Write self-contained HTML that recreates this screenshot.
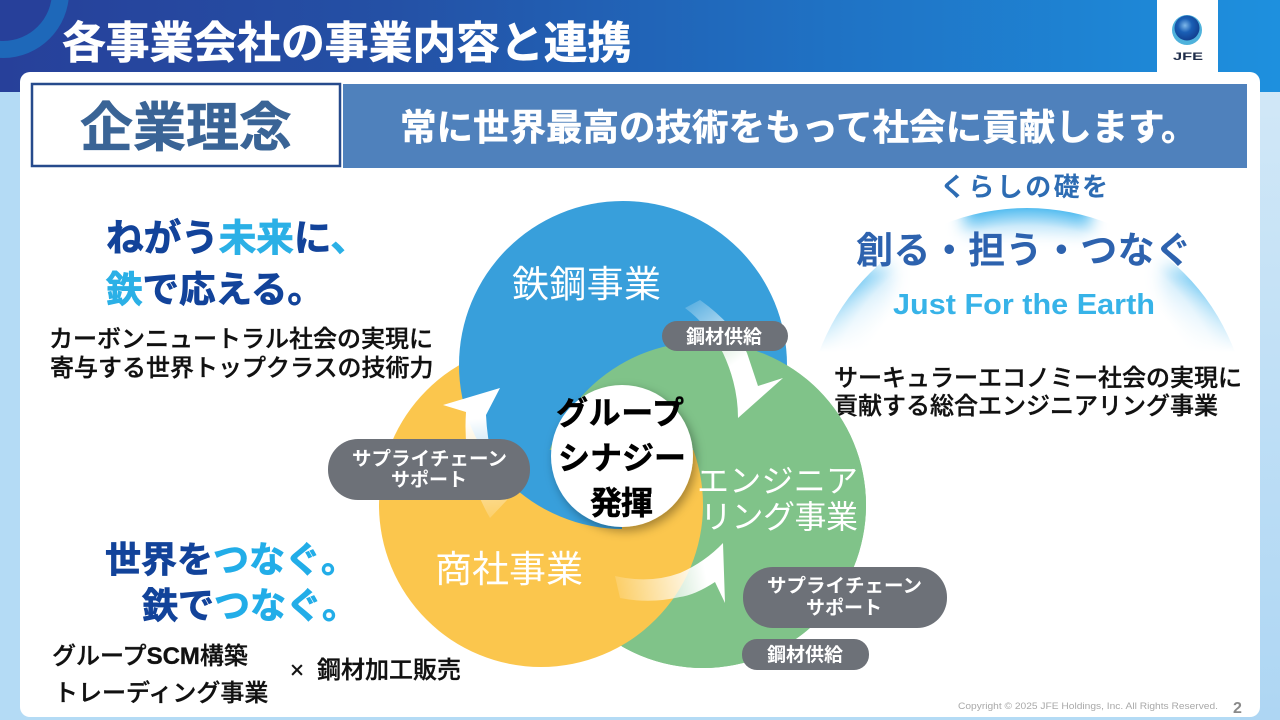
<!DOCTYPE html>
<html lang="ja"><head><meta charset="utf-8"><style>
html,body{margin:0;padding:0;width:1280px;height:720px;overflow:hidden;background:#fff}
svg{display:block}
text{font-family:"Liberation Sans","Noto Sans CJK JP",sans-serif}
.b{font-weight:700}
</style></head><body>
<svg width="1280" height="720" viewBox="0 0 1280 720" xmlns="http://www.w3.org/2000/svg">
<defs>
<linearGradient id="hd" x1="0" x2="1" y1="0" y2="0"><stop offset="0" stop-color="#27409a"/><stop offset=".3" stop-color="#2450a5"/><stop offset=".65" stop-color="#1f72c4"/><stop offset="1" stop-color="#1e90de"/></linearGradient>
<linearGradient id="bgr" x1="0" x2="0" y1="0" y2="1"><stop offset="0" stop-color="#d2e8f7"/><stop offset=".5" stop-color="#bfdff6"/><stop offset="1" stop-color="#aed6f3"/></linearGradient>
<radialGradient id="sph" cx=".42" cy=".4" r=".62"><stop offset="0" stop-color="#7fb8ea"/><stop offset=".45" stop-color="#1a5fb5"/><stop offset="1" stop-color="#123f8f"/></radialGradient>
<radialGradient id="dome" gradientUnits="userSpaceOnUse" cx="1027" cy="430" r="222"><stop offset=".8" stop-color="#fff"/><stop offset=".92" stop-color="#c6e8fa"/><stop offset="1" stop-color="#55bdf0"/></radialGradient>
<linearGradient id="fadeB" x1="0" x2="0" y1="0" y2="1"><stop offset="0" stop-color="#fff" stop-opacity=".1"/><stop offset=".4" stop-color="#fff" stop-opacity=".45"/><stop offset="1" stop-color="#fff"/></linearGradient>
<filter id="bl" x="-30%" y="-80%" width="160%" height="260%"><feGaussianBlur stdDeviation="8"/></filter>
<filter id="sh" x="-20%" y="-20%" width="140%" height="140%"><feDropShadow dx="3" dy="4" stdDeviation="5" flood-color="#000" flood-opacity=".35"/></filter>
<clipPath id="domeClip"><rect x="800" y="200" width="450" height="152"/></clipPath>
<clipPath id="topG"><path d="M0 0H1280V720H622V450H0Z"/></clipPath>
<clipPath id="lowY"><rect x="622" y="450" width="200" height="270"/></clipPath>
<linearGradient id="a1" gradientUnits="userSpaceOnUse" x1="690" y1="300" x2="745" y2="380"><stop offset="0" stop-color="#fff" stop-opacity=".15"/><stop offset=".8" stop-color="#fff"/></linearGradient>
<linearGradient id="a2" gradientUnits="userSpaceOnUse" x1="495" y1="520" x2="480" y2="400"><stop offset="0" stop-color="#fff" stop-opacity=".15"/><stop offset=".85" stop-color="#fff"/></linearGradient>
<linearGradient id="a3" gradientUnits="userSpaceOnUse" x1="612" y1="590" x2="722" y2="570"><stop offset="0" stop-color="#fff" stop-opacity=".1"/><stop offset=".85" stop-color="#fff"/></linearGradient>
</defs>

<rect width="1280" height="720" fill="#b4dbf5"/>
<rect x="1240" y="72" width="40" height="648" fill="url(#bgr)"/>
<rect width="1280" height="92" fill="url(#hd)"/>
<circle cx="3" cy="-8" r="66" fill="#1e68b9"/>
<circle cx="3" cy="-8" r="49" fill="#27409a"/>
<rect x="1157" width="61" height="72" fill="#fff"/>
<circle cx="1187" cy="30" r="15" fill="#4fb2dc"/>
<circle cx="1187" cy="28" r="12.5" fill="url(#sph)"/>
<text x="1173" y="60" font-size="11" class="b" fill="#1f2d4a" textLength="30" lengthAdjust="spacingAndGlyphs">JFE</text>
<text x="62" y="58" font-size="43.8" class="b" fill="#fff" stroke="#fff" stroke-width=".6">各事業会社の事業内容と連携</text>

<rect x="20" y="72" width="1240" height="645" rx="10" fill="#fff"/>
<rect x="32" y="84" width="308" height="82" fill="#fff" stroke="#264a8c" stroke-width="2.5"/>
<text x="80" y="146" font-size="53" class="b" fill="#3a6496" stroke="#3a6496" stroke-width=".6">企業理念</text>
<rect x="343" y="84" width="904" height="84" fill="#4f81bc"/>
<text x="400" y="140" font-size="36.5" class="b" fill="#fff" stroke="#fff" stroke-width=".5">常に世界最高の技術をもって社会に貢献します。</text>

<!-- left logos -->
<g class="b" stroke-width=".8">
<text x="106" y="251" font-size="37.6"><tspan fill="#12439a" stroke="#12439a">ねがう</tspan><tspan fill="#2bb0e6" stroke="#2bb0e6">未来</tspan><tspan fill="#12439a" stroke="#12439a">に</tspan><tspan fill="#2bb0e6" stroke="#2bb0e6">、</tspan></text>
<text x="106" y="302" font-size="36.5"><tspan fill="#2bb0e6" stroke="#2bb0e6">鉄</tspan><tspan fill="#12439a" stroke="#12439a">で応える。</tspan></text>
<text x="105" y="572" font-size="36"><tspan fill="#12439a" stroke="#12439a">世界を</tspan><tspan fill="#22ade8" stroke="#22ade8">つなぐ。</tspan></text>
<text x="142" y="618" font-size="36"><tspan fill="#12439a" stroke="#12439a">鉄で</tspan><tspan fill="#22ade8" stroke="#22ade8">つなぐ。</tspan></text>
</g>

<!-- right logo -->
<g clip-path="url(#domeClip)">
<circle cx="1027" cy="430" r="222" fill="url(#dome)"/>
<rect x="780" y="190" width="185" height="80" fill="#fff" filter="url(#bl)"/>
<rect x="1090" y="190" width="185" height="80" fill="#fff" filter="url(#bl)"/>
<rect x="895" y="236" width="265" height="120" fill="#fff" filter="url(#bl)"/>
<rect x="780" y="262" width="500" height="90" fill="url(#fadeB)"/>
</g>
<text x="940" y="196" class="b" font-size="26" fill="#2d6cb3" textLength="168">くらしの礎を</text>
<text x="856" y="263" class="b" font-size="37" fill="#2d62ae" textLength="336">創る・担う・つなぐ</text>
<text x="893" y="314" class="b" font-size="29" fill="#37b3e8" textLength="262" lengthAdjust="spacingAndGlyphs">Just For the Earth</text>

<g font-size="24" fill="#111" font-weight="500" stroke="#111" stroke-width=".35">
<text x="49" y="347">カーボンニュートラル社会の実現に</text>
<text x="50" y="376">寄与する世界トップクラスの技術力</text>
<text x="52" y="664">グループ<tspan class="b">SCM</tspan>構築</text>
<text x="54" y="701">トレーディング事業</text>
<text x="290" y="678">×</text>
<text x="317" y="678">鋼材加工販売</text>
<text x="834" y="386">サーキュラーエコノミー社会の実現に</text>
<text x="834" y="414">貢献する総合エンジニアリング事業</text>
</g>

<!-- venn -->
<circle cx="703" cy="505" r="163" fill="#80c389"/>
<circle cx="541" cy="505" r="162" fill="#fbc64d"/>
<circle cx="623" cy="365" r="164" fill="#389fdb"/>
<circle cx="703" cy="505" r="163" fill="#80c389" clip-path="url(#topG)"/>
<circle cx="541" cy="505" r="162" fill="#fbc64d" clip-path="url(#lowY)"/>

<!-- arrows -->
<path d="M685 308L700 300Q735 325 747 353L758 386L783 378L738 418Q738 385 723 353Q708 325 685 308Z" fill="url(#a1)"/>
<path d="M443 405L500 388L486 415Q488 460 507 500L490 518Q462 470 466 412Z" fill="url(#a2)"/>
<path d="M615 576Q650 584 680 573Q705 562 723 543L725 603L715 582Q695 595 680 597Q650 604 620 598Z" fill="url(#a3)"/>

<circle cx="622" cy="456" r="71" fill="#fff" filter="url(#sh)"/>
<text x="512" y="297" font-size="37" fill="#fff" textLength="149">鉄鋼事業</text>
<text x="697" y="492" font-size="32" fill="#fff" textLength="161">エンジニア</text>
<text x="700" y="528" font-size="32" fill="#fff" textLength="158">リング事業</text>
<text x="435" y="582" font-size="37" fill="#fff">商社事業</text>
<g class="b" font-size="32" fill="#000" stroke="#000" stroke-width=".5">
<text x="556" y="424" textLength="128">グループ</text>
<text x="558" y="469" textLength="128">シナジー</text>
<text x="590" y="514" textLength="63">発揮</text>
</g>

<!-- pills -->
<g fill="#6d7178">
<rect x="662" y="321" width="126" height="30" rx="15"/>
<rect x="328" y="439" width="202" height="61" rx="30"/>
<rect x="743" y="567" width="204" height="61" rx="30"/>
<rect x="742" y="639" width="127" height="31" rx="15"/>
</g>
<g class="b" font-size="19" fill="#fff">
<text x="686" y="343">鋼材供給</text>
<text x="352" y="465" textLength="155" lengthAdjust="spacingAndGlyphs">サプライチェーン</text>
<text x="391" y="486">サポート</text>
<text x="767" y="592" textLength="155" lengthAdjust="spacingAndGlyphs">サプライチェーン</text>
<text x="806" y="614">サポート</text>
<text x="767" y="661">鋼材供給</text>
</g>

<text x="958" y="709" font-size="9" fill="#a9a9a9" textLength="260" lengthAdjust="spacingAndGlyphs">Copyright © 2025 JFE Holdings, Inc. All Rights Reserved.</text>
<text x="1233" y="713" font-size="16" class="b" fill="#8a8a8a">2</text>
</svg>
</body></html>
